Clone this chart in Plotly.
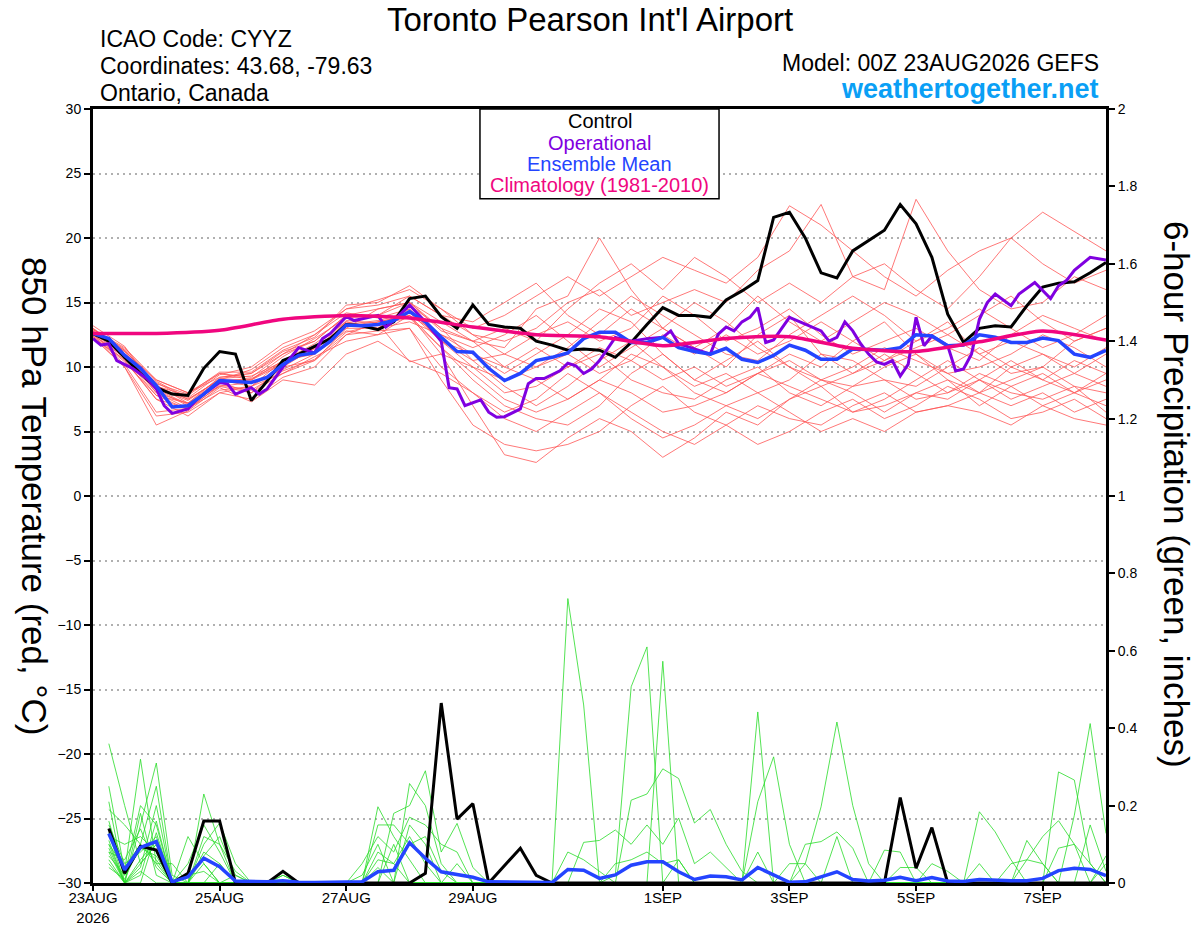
import plotly.graph_objects as go

# forecast hours from 00Z 23AUG2026
hours = list(range(0, 390, 6))
member_hours = list(range(0, 396, 12))
clim_hours = list(range(0, 408, 24))
precip_hours = list(range(6, 390, 6))

tick_hours = [0, 48, 96, 144, 216, 264, 312, 360]
tick_labels = ['23AUG<br>2026', '25AUG', '27AUG', '29AUG', '1SEP', '3SEP', '5SEP', '7SEP']
precip_ticks = [0, 0.2, 0.4, 0.6, 0.8, 1, 1.2, 1.4, 1.6, 1.8, 2]
precip_tick_labels = ['0', '0.2', '0.4', '0.6', '0.8', '1', '1.2', '1.4', '1.6', '1.8', '2']

# 850 hPa temperature (C)
control_temp = [
    12.6, 12.0, 10.75, 9.5, 8.4, 7.9, 7.8, 9.9, 11.2, 11.0, 7.4, 8.9, 10.5,
    11.0, 11.6, 12.2, 13.3, 13.2, 12.9, 13.5, 15.3, 15.5, 13.9, 13.0, 14.8, 13.3,
    13.1, 13.0, 12.0, 11.7, 11.3, 11.4, 11.3, 10.75, 11.9, 13.3, 14.6, 14.0, 14.0,
    13.85, 15.2, 15.9, 16.7, 21.6, 22.0, 20.0, 17.3, 16.9, 19.0, 19.8, 20.6, 22.6,
    21.1, 18.5, 14.1, 11.9, 13.0, 13.2, 13.1, 14.75, 16.2, 16.5, 16.6, 17.3, 18.1,
]
mean_temp = [
    12.6, 12.2, 10.9, 9.9, 8.55, 6.9, 7.0, 7.9, 8.95, 8.9, 8.8, 9.2, 10.2,
    10.9, 11.1, 12.0, 13.25, 13.2, 13.3, 13.6, 14.3, 13.5, 12.3, 11.2, 11.15, 9.9,
    8.95, 9.5, 10.5, 10.75, 11.1, 12.2, 12.7, 12.7, 11.9, 11.9, 12.3, 11.5, 11.2,
    11.0, 11.45, 10.6, 10.35, 10.9, 11.7, 11.3, 10.6, 10.6, 11.4, 11.35, 11.3, 11.5,
    12.5, 12.4, 11.65, 11.7, 12.5, 12.3, 11.9, 11.9, 12.25, 12.05, 11.0, 10.75, 11.3,
]
op_hours = [
    0, 3, 6, 9, 15, 21, 24, 27, 30, 36,
    39, 42, 48, 51, 54, 60, 63, 66, 72, 78,
    84, 87, 90, 96, 99, 108, 111, 114, 120, 126,
    132, 135, 138, 141, 147, 150, 153, 156, 162, 165,
    168, 171, 177, 180, 183, 186, 189, 192, 198, 204,
    210, 216, 219, 222, 228, 234, 237, 240, 243, 246,
    249, 252, 255, 258, 264, 270, 276, 279, 282, 285,
    288, 291, 294, 297, 300, 303, 306, 309, 312, 315,
    318, 324, 327, 330, 333, 336, 339, 342, 348, 351,
    357, 363, 366, 369, 372, 378, 384,
]
op_temp = [
    12.2, 11.7, 11.8, 10.5, 9.9, 9.0, 8.3, 7.0, 6.4, 6.75,
    7.4, 7.9, 8.8, 8.7, 7.9, 8.4, 7.9, 8.3, 10.0, 11.5,
    11.1, 12.2, 12.6, 13.9, 13.6, 14.0, 13.1, 13.6, 14.8, 13.5,
    12.0, 8.4, 8.3, 7.0, 7.45, 6.5, 6.1, 6.15, 6.75, 8.7,
    9.1, 9.1, 9.7, 10.3, 10.1, 9.5, 9.85, 10.5, 12.3, 12.0,
    12.2, 12.3, 12.8, 11.8, 11.4, 11.0, 12.55, 13.1, 12.8, 13.5,
    13.85, 14.6, 11.9, 12.1, 13.85, 13.3, 12.8, 12.0, 12.3, 13.5,
    12.8, 11.8, 11.0, 10.4, 10.2, 10.5, 9.3, 10.2, 13.85, 11.65,
    12.4, 11.65, 9.7, 9.85, 11.0, 13.7, 15.0, 15.65, 14.75, 15.65,
    16.55, 15.3, 16.3, 16.7, 17.5, 18.5, 18.3,
]
clim_temp = [12.6, 12.6, 12.85, 13.7, 14.0, 13.8, 13.1, 12.5, 12.35,
             11.65, 12.2, 12.35, 11.45, 11.2, 11.95, 12.8, 12.1]

member_temps = [
    [12.8, 11.2, 8.0, 7.2, 9.2, 9.5, 11.0, 12.0, 14.0, 14.5, 15.0,
     13.0, 12.0, 11.5, 14.5, 15.5, 20.0, 16.0, 13.0, 11.5, 10.0, 12.5,
     14.0, 11.0, 9.5, 10.5, 12.0, 13.5, 11.0, 9.5, 10.0, 12.0, 13.0],
    [12.5, 10.5, 7.5, 6.8, 8.5, 8.0, 9.5, 10.5, 12.5, 13.5, 14.0,
     11.0, 7.0, 3.2, 2.6, 4.5, 6.0, 5.0, 3.0, 4.5, 6.5, 5.5,
     7.5, 8.5, 6.5, 7.0, 8.0, 7.5, 9.0, 8.0, 7.5, 8.5, 8.0],
    [13.0, 11.0, 8.5, 7.5, 9.0, 9.8, 11.5, 12.5, 14.5, 15.2, 16.0,
     14.5, 13.0, 14.0, 15.5, 17.0, 15.5, 17.0, 18.5, 17.5, 16.5, 18.5,
     22.5, 21.0, 19.0, 17.0, 15.5, 17.5, 19.0, 20.0, 22.0, 20.5, 19.0],
    [12.9, 11.5, 9.0, 8.0, 9.5, 9.0, 10.8, 12.2, 13.8, 14.0, 15.5,
     14.0, 12.5, 12.0, 13.0, 15.0, 16.0, 14.0, 15.0, 16.0, 15.0, 17.5,
     19.0, 22.6, 17.0, 16.0, 23.0, 19.0, 16.0, 14.5, 15.0, 17.0, 16.0],
    [12.4, 10.2, 6.5, 6.8, 8.2, 8.5, 10.0, 11.5, 13.0, 13.0, 14.5,
     12.0, 10.0, 8.0, 8.5, 10.0, 11.0, 9.0, 8.0, 7.5, 9.0, 10.0,
     8.0, 7.0, 8.5, 9.0, 7.5, 8.0, 9.5, 8.5, 7.0, 8.0, 9.5],
    [12.7, 11.0, 8.8, 7.5, 9.0, 8.5, 10.5, 11.0, 13.5, 13.0, 13.5,
     12.5, 11.0, 9.5, 11.0, 12.5, 14.5, 13.5, 11.0, 9.0, 8.0, 9.5,
     11.0, 10.0, 12.0, 13.5, 11.0, 9.0, 8.0, 10.0, 11.0, 9.5, 8.5],
    [12.3, 10.0, 6.2, 6.5, 8.0, 7.5, 9.2, 10.0, 12.5, 12.8, 13.0,
     10.0, 8.0, 6.0, 5.0, 6.5, 8.0, 6.5, 5.0, 4.0, 5.5, 4.0,
     5.0, 6.5, 7.5, 6.0, 7.0, 8.5, 7.5, 6.0, 6.5, 7.5, 6.0],
    [12.6, 11.3, 8.5, 7.8, 9.5, 9.2, 11.0, 12.5, 14.2, 13.8, 14.5,
     12.0, 10.5, 11.0, 12.5, 13.5, 12.0, 13.0, 15.5, 14.0, 12.0, 13.0,
     14.5, 12.5, 11.0, 12.0, 13.0, 11.5, 10.5, 12.5, 14.0, 13.0, 12.0],
    [13.2, 11.6, 8.2, 7.0, 8.8, 8.0, 10.0, 10.5, 13.0, 14.5, 15.0,
     13.5, 12.0, 10.0, 9.0, 7.5, 9.0, 11.0, 10.0, 8.5, 9.5, 8.0,
     9.0, 11.0, 10.5, 9.0, 8.5, 10.0, 11.5, 10.0, 9.0, 10.5, 9.5],
    [12.2, 10.6, 7.5, 6.2, 8.0, 8.5, 9.5, 10.8, 12.0, 12.5, 13.0,
     9.0, 5.5, 4.0, 3.5, 4.0, 5.0, 7.0, 8.5, 6.5, 5.5, 7.0,
     6.0, 5.5, 7.0, 8.0, 6.5, 7.0, 8.0, 7.0, 8.0, 6.5, 7.5],
    [12.8, 11.0, 8.6, 7.2, 9.0, 9.0, 10.2, 11.5, 13.2, 13.5, 14.0,
     12.5, 11.5, 12.5, 14.0, 12.0, 10.0, 11.5, 13.0, 15.0, 13.5, 11.5,
     10.0, 9.0, 10.0, 11.5, 10.5, 9.5, 10.0, 11.0, 12.5, 11.5, 10.0],
    [12.5, 10.8, 8.0, 6.8, 8.8, 9.0, 10.5, 11.8, 13.5, 13.0, 14.8,
     13.0, 10.5, 8.5, 7.0, 8.5, 10.5, 12.0, 10.0, 8.0, 7.0, 6.0,
     7.5, 9.0, 8.0, 6.5, 8.0, 9.0, 7.0, 8.5, 9.5, 8.0, 7.0],
    [12.6, 11.2, 9.0, 8.0, 9.2, 9.5, 11.2, 12.0, 14.0, 14.0, 15.0,
     12.8, 12.0, 13.0, 12.0, 14.5, 16.5, 18.0, 16.0, 18.5, 17.0, 15.0,
     16.5, 15.0, 17.0, 18.0, 16.0, 14.5, 17.0, 20.0, 18.0, 16.5, 17.5],
    [12.4, 10.4, 7.8, 7.2, 8.5, 8.8, 9.8, 11.0, 12.8, 12.5, 14.0,
     11.5, 9.5, 7.5, 6.5, 7.5, 9.0, 8.0, 6.5, 7.0, 8.0, 9.5,
     8.5, 7.5, 6.5, 7.5, 9.0, 10.5, 9.0, 7.5, 8.5, 9.5, 11.0],
    [12.9, 11.4, 8.9, 7.6, 9.4, 10.0, 11.8, 12.8, 14.5, 14.8, 15.5,
     14.0, 13.5, 15.0, 16.5, 14.0, 12.5, 14.5, 13.0, 11.5, 13.0, 15.5,
     13.5, 12.0, 13.5, 15.0, 14.0, 12.5, 14.0, 15.5, 13.5, 12.0, 13.0],
    [12.3, 10.0, 5.5, 6.6, 8.4, 7.3, 9.0, 8.6, 11.0, 12.0, 10.5,
     9.5, 8.0, 6.5, 7.5, 9.5, 8.0, 6.0, 4.5, 5.5, 7.0, 8.0,
     6.5, 5.0, 6.0, 5.0, 6.5, 7.0, 6.5, 5.5, 7.0, 6.0, 5.5],
    [12.7, 11.0, 8.4, 7.4, 9.1, 9.3, 10.4, 11.4, 13.3, 13.6, 14.2,
     12.0, 11.0, 10.0, 11.5, 10.0, 11.5, 10.5, 12.5, 11.0, 12.5, 11.0,
     12.0, 13.5, 12.0, 10.5, 11.5, 12.5, 11.0, 12.0, 11.0, 10.0, 11.5],
    [12.5, 10.7, 7.8, 6.7, 8.6, 8.2, 9.7, 10.6, 12.7, 13.3, 13.8,
     11.5, 9.0, 7.0, 6.0, 5.5, 7.0, 9.5, 11.0, 9.0, 10.5, 12.0,
     10.0, 8.5, 9.5, 11.0, 9.5, 8.0, 9.0, 10.5, 9.0, 8.0, 9.0],
    [13.0, 11.3, 8.7, 7.9, 9.6, 9.6, 11.3, 12.3, 14.8, 15.0, 16.3,
     14.5, 12.5, 11.0, 10.0, 11.5, 13.5, 15.5, 14.0, 12.5, 11.0, 10.5,
     12.5, 14.0, 15.5, 14.0, 12.0, 13.0, 14.5, 13.0, 11.5, 12.5, 14.0],
    [12.6, 10.9, 8.3, 7.1, 8.9, 9.1, 10.3, 11.2, 13.6, 13.4, 10.4,
     11.0, 10.0, 9.0, 10.0, 11.0, 9.5, 10.5, 9.0, 10.0, 8.5, 9.5,
     10.5, 9.0, 8.5, 10.0, 11.0, 9.5, 8.0, 9.0, 10.0, 8.5, 6.5],
]

# 6-hour precipitation (inches)
control_precip = [
    .141, .025, .095, .085, 0, .025, .16, .16, 0, 0, 0, .03, 0, 0, 0, 0,
    0, 0, 0, 0, .025, .465, .165, .205, 0, .045, .09, .02, 0, 0, 0, 0,
    0, 0, 0, 0, 0, 0, 0, 0, 0, 0, 0, 0, 0, 0, 0, 0,
    0, 0, .221, .038, .143, 0, 0, 0, 0, 0, 0, 0, 0, 0, 0, 0,
]
mean_precip = [
    .128, .034, .092, .107, .003, .016, .064, .042, .005, .003, .003, .006, .002, .001, .001, .002,
    .003, .029, .033, .104, .064, .029, .022, .015, .003, .002, .002, .001, .001, .035, .033, .012,
    .021, .046, .055, .055, .029, .009, .018, .016, .008, .040, .020, .002, .003, .016, .029, .009,
    .005, .007, .015, .006, .014, .005, .004, .009, .007, .006, .006, .012, .032, .038, .035, .019,
]
member_precips = [
    [.36, .20, .05, .10, 0, .12, .05, 0, 0, 0, 0, .02, 0, 0, 0, 0,
     0, .06, .05, .12, .05, 0, 0, 0, 0, 0, 0, 0, 0, .735, .46, 0,
     0, 0, 0, 0, 0, 0, 0, 0, 0, .08, 0, 0, 0, 0, 0, 0,
     0, 0, 0, 0, 0, 0, 0, .05, 0, 0, 0, 0, .09, .10, .05, 0],
    [.25, .03, .32, .05, 0, 0, .23, .10, .03, 0, 0, 0, 0, 0, 0, 0,
     0, .197, .12, .06, 0, 0, 0, 0, 0, 0, 0, 0, 0, 0, 0, 0,
     .02, .507, .61, 0, 0, 0, 0, 0, 0, 0, 0, 0, 0, 0, .12, 0,
     0, 0, 0, 0, 0, 0, 0, 0, 0, 0, 0, 0, 0, 0, .15, .03],
    [.21, 0, .15, .31, .02, 0, .10, .155, .05, 0, 0, 0, 0, 0, 0, 0,
     0, 0, 0, .257, .20, .05, 0, 0, 0, 0, 0, 0, 0, 0, 0, 0,
     0, 0, 0, .573, 0, 0, 0, 0, 0, 0, 0, 0, 0, 0, 0, 0,
     0, 0, 0, 0, 0, 0, 0, 0, 0, 0, .11, .05, 0, 0, 0, 0],
    [.19, .15, .10, .25, 0, .05, .15, .08, 0, 0, 0, 0, 0, 0, 0, 0,
     0, 0, .18, .20, .29, .08, .154, .04, 0, 0, 0, 0, 0, 0, 0, 0,
     0, 0, 0, 0, 0, 0, 0, 0, 0, .442, 0, 0, 0, 0, 0, 0,
     0, 0, 0, 0, 0, 0, 0, 0, 0, 0, 0, 0, .287, .266, .05, 0],
    [.16, .02, .20, .15, 0, 0, .07, .12, .02, 0, 0, 0, 0, 0, 0, 0,
     .05, .12, .08, .17, .15, .10, .08, 0, 0, 0, 0, 0, 0, 0, 0, 0,
     0, .214, .23, .295, .27, .155, .19, .10, .03, 0, 0, 0, 0, 0, 0, 0,
     0, 0, 0, 0, 0, 0, 0, 0, 0, 0, 0, 0, 0, .175, .412, .128],
    [.15, .05, .08, .12, 0, 0, .08, .05, 0, 0, 0, 0, 0, 0, 0, 0,
     0, .15, .15, .10, .12, .03, 0, 0, 0, 0, 0, 0, 0, 0, 0, 0,
     0, 0, 0, 0, 0, 0, 0, 0, 0, .21, .326, .10, 0, 0, 0, 0,
     0, 0, 0, 0, 0, 0, 0, 0, 0, 0, 0, 0, 0, 0, 0, .07],
    [.13, 0, .04, .20, 0, .02, .03, 0, 0, 0, 0, 0, 0, 0, 0, 0,
     0, 0, 0, .15, .10, 0, 0, 0, 0, 0, 0, 0, 0, 0, 0, 0,
     0, 0, 0, 0, 0, 0, 0, 0, 0, 0, 0, 0, .05, .197, .416, .20,
     .05, 0, 0, 0, 0, 0, 0, 0, 0, 0, 0, 0, 0, 0, 0, 0],
    [.12, .10, .12, .08, 0, 0, 0, .05, 0, 0, 0, 0, 0, 0, 0, 0,
     0, 0, 0, 0, 0, 0, 0, 0, 0, 0, 0, 0, 0, 0, .105, .11,
     .137, .10, .15, .10, .168, .05, .08, .04, 0, 0, 0, 0, 0, 0, 0, 0,
     0, 0, 0, 0, 0, 0, 0, .184, .132, .06, 0, 0, 0, 0, 0, 0],
    [.11, 0, .18, .02, 0, 0, 0, 0, 0, 0, 0, .02, 0, 0, 0, 0,
     0, 0, 0, 0, 0, 0, 0, 0, 0, 0, 0, 0, 0, 0, 0, 0,
     0, 0, 0, 0, 0, 0, 0, 0, 0, 0, 0, 0, .10, .107, .132, .09,
     0, .085, .08, 0, 0, 0, 0, 0, 0, 0, 0, 0, 0, 0, 0, 0],
    [.10, 0, .02, .16, 0, 0, .05, 0, .02, 0, 0, 0, 0, 0, 0, 0,
     0, .08, .05, 0, 0, 0, 0, 0, 0, 0, 0, 0, 0, 0, 0, 0,
     .05, .06, .08, .05, .06, 0, 0, 0, 0, 0, 0, 0, 0, 0, 0, 0,
     0, 0, 0, 0, 0, 0, 0, 0, 0, 0, .06, .12, .161, .10, 0, 0],
    [.10, .04, .10, .05, .05, 0, 0, 0, 0, 0, 0, 0, 0, 0, 0, 0,
     0, 0, 0, 0, 0, 0, .05, 0, 0, 0, 0, 0, 0, 0, 0, 0,
     0, 0, 0, 0, 0, 0, 0, 0, 0, 0, 0, .05, .05, 0, 0, 0,
     0, 0, 0, 0, .05, .03, 0, 0, 0, 0, 0, 0, 0, 0, 0, 0],
    [.09, 0, .05, .10, 0, 0, 0, 0, 0, 0, 0, .03, 0, 0, 0, 0,
     0, .04, 0, 0, 0, 0, 0, 0, 0, 0, 0, 0, 0, .08, .06, .03,
     0, 0, 0, 0, 0, 0, 0, 0, 0, 0, 0, 0, 0, 0, 0, 0,
     0, 0, .04, .04, 0, 0, 0, 0, 0, 0, 0, 0, 0, 0, 0, 0],
    [.08, 0, 0, .13, 0, 0, 0, 0, 0, 0, 0, 0, 0, 0, 0, 0,
     .02, .10, 0, 0, 0, 0, 0, 0, 0, 0, 0, 0, 0, 0, 0, 0,
     0, 0, 0, 0, .06, 0, 0, 0, 0, 0, 0, 0, 0, 0, 0, 0,
     0, 0, 0, 0, 0, 0, 0, 0, 0, 0, 0, 0, 0, 0, 0, 0],
    [.08, .06, .14, .04, 0, 0, .12, .10, 0, 0, 0, 0, 0, 0, 0, 0,
     0, 0, .10, 0, 0, 0, 0, 0, 0, 0, 0, 0, 0, 0, 0, 0,
     0, 0, 0, 0, 0, 0, 0, 0, 0, 0, 0, 0, 0, 0, 0, 0,
     0, 0, 0, 0, 0, 0, 0, 0, 0, .05, .06, .05, 0, 0, 0, 0],
    [.07, .02, .09, .07, 0, 0, 0, 0, 0, 0, 0, 0, 0, 0, 0, 0,
     0, 0, 0, 0, 0, 0, 0, 0, 0, 0, 0, 0, 0, 0, 0, 0,
     0, 0, 0, 0, 0, 0, 0, 0, 0, 0, 0, 0, 0, 0, 0, 0,
     0, 0, 0, 0, 0, 0, 0, 0, 0, 0, 0, 0, 0, 0, 0, .05],
    [.06, 0, .06, .11, 0, 0, 0, 0, 0, 0, 0, 0, 0, 0, 0, 0,
     0, 0, 0, 0, 0, 0, 0, 0, 0, 0, 0, 0, 0, 0, 0, 0,
     0, 0, 0, 0, 0, 0, 0, 0, 0, 0, 0, 0, 0, 0, 0, 0,
     0, 0, 0, 0, 0, 0, 0, 0, 0, 0, 0, 0, 0, 0, 0, 0],
    [.05, 0, .03, 0, 0, 0, 0, 0, 0, 0, 0, 0, 0, 0, 0, 0,
     0, 0, 0, 0, 0, 0, 0, 0, 0, 0, 0, 0, 0, 0, 0, 0,
     0, 0, 0, 0, 0, 0, 0, 0, 0, 0, 0, 0, 0, 0, 0, 0,
     0, 0, 0, 0, 0, 0, 0, 0, 0, 0, 0, 0, 0, 0, 0, 0],
    [.04, .01, .10, .06, 0, 0, 0, 0, 0, 0, 0, 0, 0, 0, 0, 0,
     0, 0, 0, 0, 0, 0, 0, 0, 0, 0, 0, 0, 0, 0, 0, 0,
     0, 0, 0, 0, 0, 0, 0, 0, 0, 0, 0, 0, 0, 0, 0, 0,
     0, 0, 0, 0, 0, 0, 0, 0, 0, 0, 0, 0, 0, 0, 0, 0],
]

FONT = 'Liberation Sans, Arial, sans-serif'
RED = 'rgb(255,85,85)'
GREEN = 'rgb(40,220,40)'
PURPLE = '#8000e0'
BLUE = '#2444ff'
MAGENTA = '#f0067f'

fig = go.Figure()

for temps in member_temps:
    fig.add_trace(go.Scatter(x=member_hours, y=temps, mode='lines',
                             line=dict(color=RED, width=0.8)))

for precip in member_precips:
    fig.add_trace(go.Scatter(x=precip_hours, y=precip, yaxis='y2', mode='lines',
                             line=dict(color=GREEN, width=0.8)))

fig.add_trace(go.Scatter(x=precip_hours, y=control_precip, yaxis='y2', mode='lines',
                         line=dict(color='black', width=3)))
fig.add_trace(go.Scatter(x=precip_hours, y=mean_precip, yaxis='y2', mode='lines',
                         line=dict(color=BLUE, width=3.5)))

fig.add_trace(go.Scatter(x=hours, y=control_temp, mode='lines',
                         line=dict(color='black', width=3)))
fig.add_trace(go.Scatter(x=op_hours, y=op_temp, mode='lines',
                         line=dict(color=PURPLE, width=3)))
fig.add_trace(go.Scatter(x=hours, y=mean_temp, mode='lines',
                         line=dict(color=BLUE, width=3.5)))
fig.add_trace(go.Scatter(x=clim_hours, y=clim_temp, mode='lines',
                         line=dict(color=MAGENTA, width=3.5, shape='spline', smoothing=0.6)))


def note(text, x, y, size, color='black', xanchor='center', angle=0):
    return dict(text=text, x=x, y=y, xref='paper', yref='paper', showarrow=False,
                xanchor=xanchor, yanchor='middle', textangle=angle,
                font=dict(family=FONT, size=size, color=color))


annotations = [
    note("Toronto Pearson Int'l Airport", 0.4906, 1.1150, 33),
    note('ICAO Code: CYYZ', 0.0049, 1.0904, 23, xanchor='left'),
    note('Coordinates: 43.68, -79.63', 0.0049, 1.0556, 23, xanchor='left'),
    note('Ontario, Canada', 0.0049, 1.0207, 23, xanchor='left'),
    note('Model: 00Z 23AUG2026 GEFS', 0.9951, 1.0588, 23, xanchor='right'),
    note('<b>weathertogether.net</b>', 0.9951, 1.0258, 27, color='#0a9ff5', xanchor='right'),
    note('Control', 0.5, 0.9845, 20),
    note('Operational', 0.5, 0.9567, 20, color=PURPLE),
    note('Ensemble Mean', 0.5, 0.9289, 20, color=BLUE),
    note('Climatology (1981-2010)', 0.5, 0.9012, 20, color=MAGENTA),
    note('850 hPa Temperature (red, °C)', -0.0573, 0.5, 35, angle=90),
    note('6-hour Precipitation (green, inches)', 1.0691, 0.5013, 35, angle=90),
]

fig.update_layout(
    width=1200, height=927,
    margin=dict(l=93, r=94, t=109, b=44),
    paper_bgcolor='white', plot_bgcolor='white',
    showlegend=False,
    font=dict(family=FONT, color='black'),
    xaxis=dict(range=[0, 384], tickmode='array', tickvals=tick_hours, ticktext=tick_labels,
               ticks='outside', ticklen=5, tickwidth=1.5, tickcolor='black',
               ticklabelstandoff=-6,
               showline=True, linecolor='black', linewidth=3, mirror=True,
               showgrid=False, zeroline=False, automargin=False, tickfont=dict(size=15)),
    yaxis=dict(range=[-30, 30], tick0=0, dtick=5,
               ticks='outside', ticklen=6, tickwidth=1.5, tickcolor='black',
               showline=True, linecolor='black', linewidth=3, mirror=True,
               showgrid=True, gridcolor='#b0b0b0', griddash='2px,4px', gridwidth=1.5,
               zeroline=False, automargin=False, tickfont=dict(size=14)),
    yaxis2=dict(range=[0, 2], overlaying='y', side='right',
                tickmode='array', tickvals=precip_ticks, ticktext=precip_tick_labels,
                ticks='outside', ticklen=6, tickwidth=1.5, tickcolor='black',
                showline=True, linecolor='black', linewidth=3,
                showgrid=False, zeroline=False, automargin=False, tickfont=dict(size=14)),
    shapes=[
        dict(type='rect', xref='paper', yref='paper', x0=0.382, x1=0.618, y0=0.884, y1=1.0,
             line=dict(color='black', width=1.5), fillcolor='white', layer='above'),
    ],
    annotations=annotations,
)

# drop the default page margin so the figure sits at the window's top-left corner
fig.write_html('out.html', config={'displayModeBar': False},
               post_script="document.body.style.margin = '0';")
